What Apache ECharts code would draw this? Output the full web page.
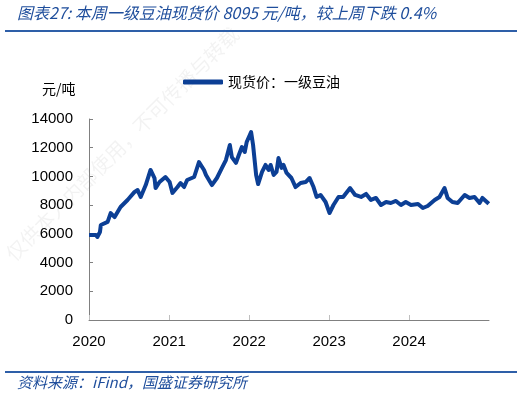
<!DOCTYPE html>
<html>
<head>
<meta charset="utf-8">
<script src="https://cdn.jsdelivr.net/npm/echarts@6/dist/echarts.min.js"></script>
<style>
  html, body { margin: 0; padding: 0; background: #fff; }
  #chart { width: 525px; height: 398px; }
</style>
</head>
<body>
<div id="chart"></div>
<script>
// 日期 / 一级豆油现货价 (元/吨)
const dates = [
  "2020-01-01", "2020-02-02", "2020-02-08", "2020-02-20", "2020-02-24", "2020-03-26", "2020-04-09", "2020-04-27",
  "2020-05-24", "2020-06-25", "2020-07-27", "2020-08-10", "2020-08-24", "2020-09-16", "2020-10-08", "2020-10-26",
  "2020-10-31", "2020-11-18", "2020-12-15", "2021-01-03", "2021-01-16", "2021-02-08", "2021-02-22", "2021-03-10",
  "2021-03-24", "2021-04-25", "2021-05-17", "2021-06-09", "2021-06-18", "2021-07-15", "2021-08-07", "2021-08-30",
  "2021-09-17", "2021-10-05", "2021-10-14", "2021-11-02", "2021-11-15", "2021-11-29", "2021-12-12", "2021-12-21",
  "2022-01-10", "2022-01-19", "2022-02-02", "2022-02-11", "2022-03-01", "2022-03-17", "2022-03-31", "2022-04-09",
  "2022-04-23", "2022-05-06", "2022-05-15", "2022-05-29", "2022-06-07", "2022-06-21", "2022-07-13", "2022-08-01",
  "2022-08-24", "2022-09-16", "2022-10-04", "2022-10-22", "2022-11-05", "2022-11-23", "2022-12-16", "2023-01-03",
  "2023-01-21", "2023-02-13", "2023-03-06", "2023-04-07", "2023-04-30", "2023-05-27", "2023-06-19", "2023-07-11",
  "2023-08-03", "2023-08-26", "2023-09-18", "2023-10-10", "2023-11-02", "2023-11-25", "2023-12-17", "2024-01-10",
  "2024-02-11", "2024-03-04", "2024-03-26", "2024-04-27", "2024-05-19", "2024-06-11", "2024-06-25", "2024-07-17",
  "2024-08-10", "2024-09-11", "2024-10-03", "2024-10-26", "2024-11-18", "2024-12-01", "2024-12-30"
];
const prices = [
  5920, 5920, 5780, 6130, 6620, 6830, 7450, 7170,
  7870, 8360, 8920, 9050, 8570, 9400, 10450, 9890,
  9190, 9610, 9960, 9610, 8850, 9260, 9540, 9260,
  9750, 9960, 11000, 10450, 10100, 9400, 9890, 10590,
  11140, 12190, 11350, 10940, 11490, 12050, 11700, 12400,
  13090, 12190, 10100, 9470, 10310, 10800, 10450, 10800,
  10100, 10310, 11280, 10590, 10800, 10240, 9890, 9260,
  9540, 9610, 9890, 9260, 8570, 8710, 8220, 7450,
  8010, 8570, 8570, 9190, 8710, 8570, 8780, 8360,
  8500, 8010, 8220, 8150, 8290, 8010, 8220, 8010,
  8080, 7800, 7940, 8360, 8570, 9190, 8500, 8220,
  8150, 8710, 8500, 8570, 8150, 8500, 8095
];
const yTicks = [0, 2000, 4000, 6000, 8000, 10000, 12000, 14000];
const seriesName = "现货价：一级豆油";

const blue = "#1f4e9c";
const chart = echarts.init(document.getElementById("chart"));

const option = {
  animation: false,
  textStyle: { fontFamily: "Liberation Sans, Noto Sans CJK SC, sans-serif" },
  grid: { left: 89, right: 36, top: 119, bottom: 78, containLabel: false },
  legend: {
    left: 178,
    top: 70,
    icon: "roundRect",
    itemWidth: 40,
    itemHeight: 5,
    itemGap: 4,
    textStyle: { fontSize: 14, color: "#000", fontFamily: "Noto Sans CJK SC" },
    data: [seriesName]
  },
  xAxis: {
    type: "time",
    min: "2020-01-01",
    max: "2024-12-31",
    minInterval: 365 * 24 * 3600 * 1000,
    axisLine: { lineStyle: { color: "#808080", width: 1 } },
    axisTick: { show: true, inside: true, length: 5, lineStyle: { color: "#bfbfbf" } },
    axisLabel: {
      formatter: "{yyyy}",
      color: "#000",
      fontSize: 15,
      margin: 14,
      showMaxLabel: false
    },
    splitLine: { show: false }
  },
  yAxis: {
    type: "value",
    min: yTicks[0],
    max: yTicks[yTicks.length - 1],
    interval: 2000,
    axisLine: { show: true, lineStyle: { color: "#808080" } },
    axisTick: { show: true, inside: true, length: 4, lineStyle: { color: "#808080" } },
    axisLabel: { color: "#000", fontSize: 15, margin: 16, formatter: (v) => String(v) },
    splitLine: { show: false }
  },
  series: [{
    name: seriesName,
    type: "line",
    data: dates.map((d, i) => [d, prices[i]]),
    showSymbol: false,
    symbol: "none",
    lineStyle: { color: "#0c3f95", width: 4, join: "round" },
    itemStyle: { color: "#0c3f95" }
  }],
  graphic: [
    {
      type: "text", left: 17, top: 5,
      style: {
        text: "图表27: 本周一级豆油现货价 8095 元/吨，较上周下跌 0.4%",
        fill: blue, font: "italic 16px 'Noto Sans CJK SC', sans-serif"
      }
    },
    { type: "rect", shape: { x: 5, y: 30, width: 512, height: 2 }, style: { fill: "#2e5fa8" } },
    {
      type: "text", left: 42, top: 82,
      style: { text: "元/吨", fill: "#000", font: "14px 'Noto Sans CJK SC', sans-serif" }
    },
    { type: "rect", shape: { x: 5, y: 371, width: 512, height: 2 }, style: { fill: "#2e5fa8" } },
    {
      type: "text", left: 17, top: 375,
      style: {
        text: "资料来源：iFind，国盛证券研究所",
        fill: blue, font: "italic 15px 'Noto Sans CJK SC', sans-serif"
      }
    },
    {
      type: "text", x: 2, y: 250, rotation: Math.PI / 4, z: -1,
      style: {
        text: "仅供本人内部使用，不可传播与转载",
        fill: "rgba(0,0,0,0.05)", font: "20px 'Noto Sans CJK SC', sans-serif"
      }
    }
  ]
};
chart.setOption(option);
</script>
</body>
</html>
